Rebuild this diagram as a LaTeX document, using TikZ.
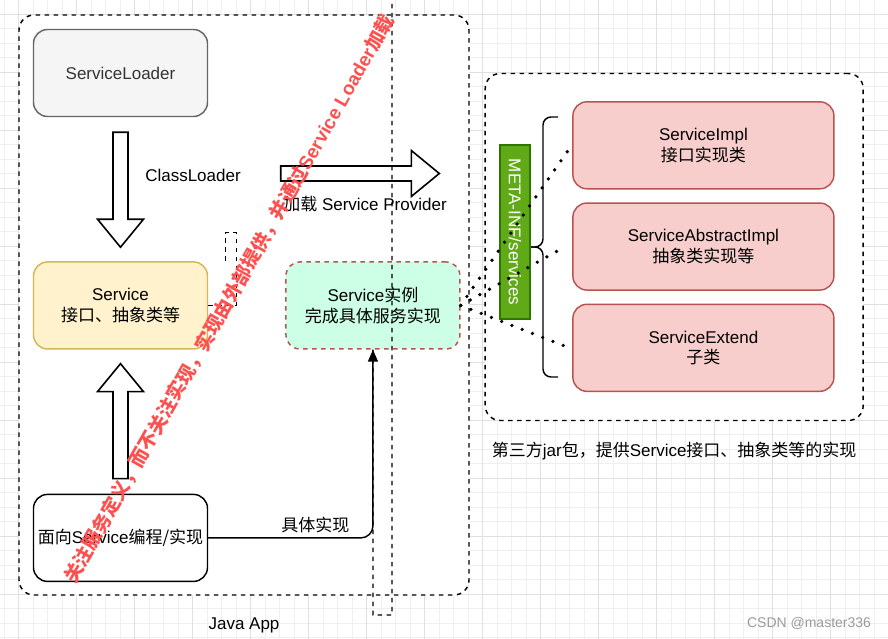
\documentclass[tikz,border=0pt]{standalone}
\usepackage{fontspec}
\setmainfont{Liberation Sans}
\newfontfamily\cjk{Noto Sans CJK SC}
\usepackage{tikz}
\usetikzlibrary{arrows.meta,calc,positioning}
\definecolor{gridminor}{HTML}{EFEFEF}
\definecolor{gridmajor}{HTML}{E0E0E0}
\definecolor{loadergray}{HTML}{F5F5F5}
\definecolor{loaderedge}{HTML}{666666}
\definecolor{apiyellow}{HTML}{FFF2CC}
\definecolor{apiedge}{HTML}{D6B656}
\definecolor{instmint}{HTML}{CCFFE6}
\definecolor{implred}{HTML}{F8CECC}
\definecolor{impledge}{HTML}{B85450}
\definecolor{metagreen}{HTML}{60A917}
\definecolor{metaedge}{HTML}{2D7600}
\definecolor{notered}{HTML}{FF5050}
\definecolor{markgray}{HTML}{9A9A9A}
\tikzset{
  base/.style={draw,line width=1.45pt,rounded corners=14pt,align=center,
               minimum width=174pt,minimum height=87pt,inner sep=2pt,
               font=\fontsize{17}{20.5}\selectfont},
  loader/.style={base,fill=loadergray,draw=loaderedge,text=black!80},
  api/.style={base,fill=apiyellow,draw=apiedge},
  client/.style={base,fill=white,draw=black},
  instance/.style={base,fill=instmint,draw=impledge,dash pattern=on 4.5pt off 4.5pt},
  impl/.style={base,fill=implred,draw=impledge,minimum width=261pt},
  meta/.style={draw=metaedge,line width=1.45pt,fill=metagreen,text=white,rotate=-90,
               minimum width=174pt,minimum height=30pt,inner sep=0pt,
               font=\fontsize{17}{20.5}\selectfont},
  group/.style={draw=black,line width=1.45pt,dash pattern=on 4.5pt off 4.5pt,
                rounded corners=15pt,fill=white},
  lbl/.style={font=\fontsize{17}{20.5}\selectfont,inner sep=0pt},
  flow/.style={-{Triangle[length=12pt,width=10pt]},line width=1.45pt,rounded corners=12pt},
  dots/.style={line width=3.7pt,dash pattern=on 0pt off 11pt,line cap=round},
  guide/.style={line width=1.45pt,dash pattern=on 4.5pt off 4.5pt},
  hollow/.style={draw=black,line width=1.6pt,fill=white,line join=miter},
  pics/flexarrow/.style={code={
    \draw[hollow] (0,-7.5) -- (#1-28,-7.5) -- (#1-28,-23) -- (#1,0)
                  -- (#1-28,23) -- (#1-28,7.5) -- (0,7.5) -- cycle;}},
  note/.style={text=notered,font=\fontsize{19}{22}\selectfont\bfseries,inner sep=0pt}
}
\begin{document}
\begin{tikzpicture}[x=1pt,y=-1pt]
  \useasboundingbox (0,0) rectangle (888,639);
  \fill[white] (0,0) rectangle (888,639);
  % grid
  \foreach \gx in {4.2,18.7,...,888} \draw[gridminor,line width=1pt] (\gx,0) -- (\gx,639);
  \foreach \gy in {14.3,28.8,...,639} \draw[gridminor,line width=1pt] (0,\gy) -- (888,\gy);
  \foreach \gx in {18.7,76.7,...,888} \draw[gridmajor,line width=1pt] (\gx,0) -- (\gx,639);
  \foreach \gy in {14.3,72.3,...,639} \draw[gridmajor,line width=1pt] (0,\gy) -- (888,\gy);

  % groups
  \node[group,minimum width=450pt,minimum height=580pt] (app) at (244,305) {};
  \node[lbl] (applbl) at ([yshift=-30pt]app.south) {Java App};
  \node[group,minimum width=378pt,minimum height=347pt] (jar) at (674.2,247) {};
  \node[lbl] (jarlbl) at ([yshift=-30pt]jar.south)
    {{\cjk 第三方}jar{\cjk 包，提供}Service{\cjk 接口、抽象类等的实现}};

  % java app side
  \node[loader] (loader) at (120.5,73) {ServiceLoader};
  \node[api,below=144pt of loader] (api) {Service\\{\cjk 接口、抽象类等}};
  \node[client,below=144pt of api] (client) {{\cjk 面向}Service{\cjk 编程/实现}};
  \node[instance,right=77pt of api] (inst) {Service{\cjk 实例}\\{\cjk 完成具体服务实现}};

  \pic[rotate=-90] at ([yshift=-15pt]loader.south) {flexarrow=115};
  \pic[rotate=90] at ([yshift=15pt]client.north) {flexarrow=115};
  \pic at (280.7,173.5) {flexarrow=158.6};
  \node[lbl] (cl) at (193,175) {ClassLoader};
  \node[lbl] (sp) at (365,204) {{\cjk 加载} Service Provider};

  \draw[flow] (client.east) -| node[lbl,pos=0.325,above=4pt]{\cjk 具体实现} (inst.south);

  % third party side
  \node[impl] (impl) at (703.4,145.3) {ServiceImpl\\{\cjk 接口实现类}};
  \node[impl,below=12.8pt of impl] (abs) {ServiceAbstractImpl\\{\cjk 抽象类实现等}};
  \node[impl,below=12.8pt of abs] (ext) {ServiceExtend\\{\cjk 子类}};
  \node[meta] (meta) at (515,232) {META-INF/services};
  \draw[line width=1.45pt,rounded corners=8pt] (558,117) -- (543,117) -- (543,247) -- (531,247);
  \draw[line width=1.45pt,rounded corners=8pt] (558,377) -- (543,377) -- (543,247) -- (531,247);

  \draw[dots] (inst.east) -- ([xshift=-4pt,yshift=-5pt]impl.west);
  \draw[dots] (inst.east) -- ([xshift=-7pt]abs.west);
  \draw[dots] (inst.east) -- ([xshift=-3pt]ext.west);

  % dashed guides
  \draw[guide] (api.east) -- ++(28,0) -- ++(0,-72.7) -- ++(-10.7,0) -- ++(0,29.4);
  \draw[guide] (inst.south) -- (373,615) -- (392,615) -- (392,0);

  % remark
  \node[note,rotate=60.5] (remark) at (229,299)
    {{\cjk 关注服务定义，而不关注实现，实现由外部提供，并通过}Service Loader{\cjk 加载}};
  \node[text=markgray,font=\fontsize{14}{16}\selectfont,inner sep=0pt] (mark) at (809,623) {CSDN @master336};
\end{tikzpicture}
\end{document}
